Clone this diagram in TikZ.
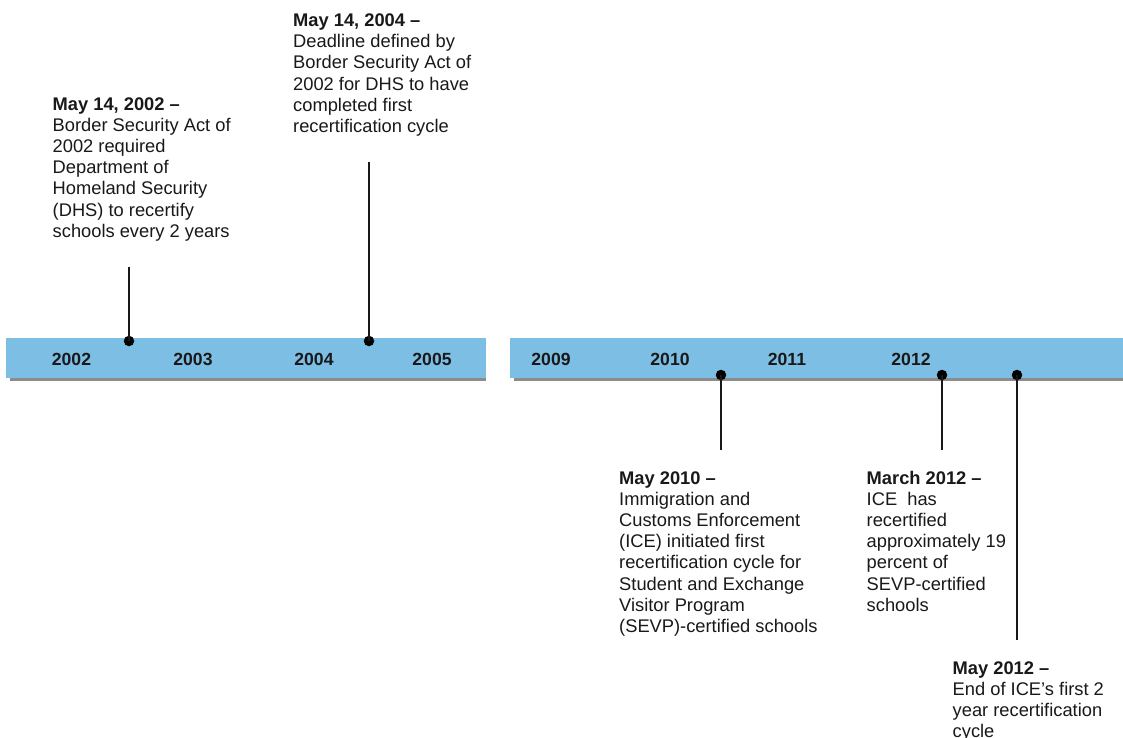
\documentclass[tikz,border=0pt]{standalone}
\usepackage{fontspec}
\setmainfont{Liberation Sans}
\definecolor{barblue}{RGB}{124,190,228}
\definecolor{shadowgrey}{RGB}{140,140,140}
\definecolor{inkgrey}{RGB}{25,25,25}
\begin{document}
\begin{tikzpicture}[x=1pt,y=-1pt,
  bar/.style={fill=barblue,draw=none},
  barshadow/.style={fill=shadowgrey,draw=none},
  year/.style={font=\fontsize{17.6}{20}\selectfont\bfseries,text=inkgrey,inner sep=0pt,anchor=base},
  event/.style={font=\fontsize{18.3}{21.2}\selectfont,text=inkgrey,align=left,inner sep=0pt,anchor=base west},
  dot/.style={circle,fill=black,inner sep=0pt,minimum size=10.5pt},
  stem/.style={draw=inkgrey,line width=1.7pt}]
\useasboundingbox[fill=white] (0,0) rectangle (1123,737);
% bars
\fill[barshadow] (10,341) rectangle (486,381);
\fill[bar] (6,337.5) rectangle (486,378);
\fill[barshadow] (514,341) rectangle (1123,381);
\fill[bar] (510,337.5) rectangle (1123,378);
% years
\node[year] (y2002) at (71.5,365) {2002};
\node[year] (y2003) at (193,365) {2003};
\node[year] (y2004) at (314,365) {2004};
\node[year] (y2005) at (432,365) {2005};
\node[year] (y2009) at (551,365) {2009};
\node[year] (y2010) at (670,365) {2010};
\node[year] (y2011) at (787,365) {2011};
\node[year] (y2012) at (911,365) {2012};
% stem ends
\coordinate (e1) at (129,267);
\coordinate (e2) at (369,162);
\coordinate (e3) at (721,450);
\coordinate (e4) at (942,450);
\coordinate (e5) at (1017,640);
% dots
\node[dot] (d1) at (129,341) {};
\node[dot] (d2) at (369,341) {};
\node[dot] (d3) at (721,375) {};
\node[dot] (d4) at (942,375) {};
\node[dot] (d5) at (1017,375) {};
\draw[stem] (d1.center) -- (e1);
\draw[stem] (d2.center) -- (e2);
\draw[stem] (d3.center) -- (e3);
\draw[stem] (d4.center) -- (e4);
\draw[stem] (d5.center) -- (e5);
% events (anchored at the baseline of the last line)
\node[event] (t1) at (52.5,237.2) {\textbf{May 14, 2002 –}\\Border Security Act of\\2002 required\\Department of\\Homeland Security\\(DHS) to recertify\\schools every 2 years};
\node[event] (t2) at (293,132.5) {\textbf{May 14, 2004 –}\\Deadline defined by\\Border Security Act of\\2002 for DHS to have\\completed first\\recertification cycle};
\node[event] (t3) at (619,632.4) {\textbf{May 2010 –}\\Immigration and\\Customs Enforcement\\(ICE) initiated first\\recertification cycle for\\Student and Exchange\\Visitor Program\\(SEVP)-certified schools};
\node[event] (t4) at (866.5,611.2) {\textbf{March 2012 –}\\ICE\ \ has\\recertified\\approximately 19\\percent of\\SEVP-certified\\schools};
\node[event] (t5) at (952.5,737.6) {\textbf{May 2012 –}\\End of ICE’s first 2\\year recertification\\cycle};
\end{tikzpicture}
\end{document}
